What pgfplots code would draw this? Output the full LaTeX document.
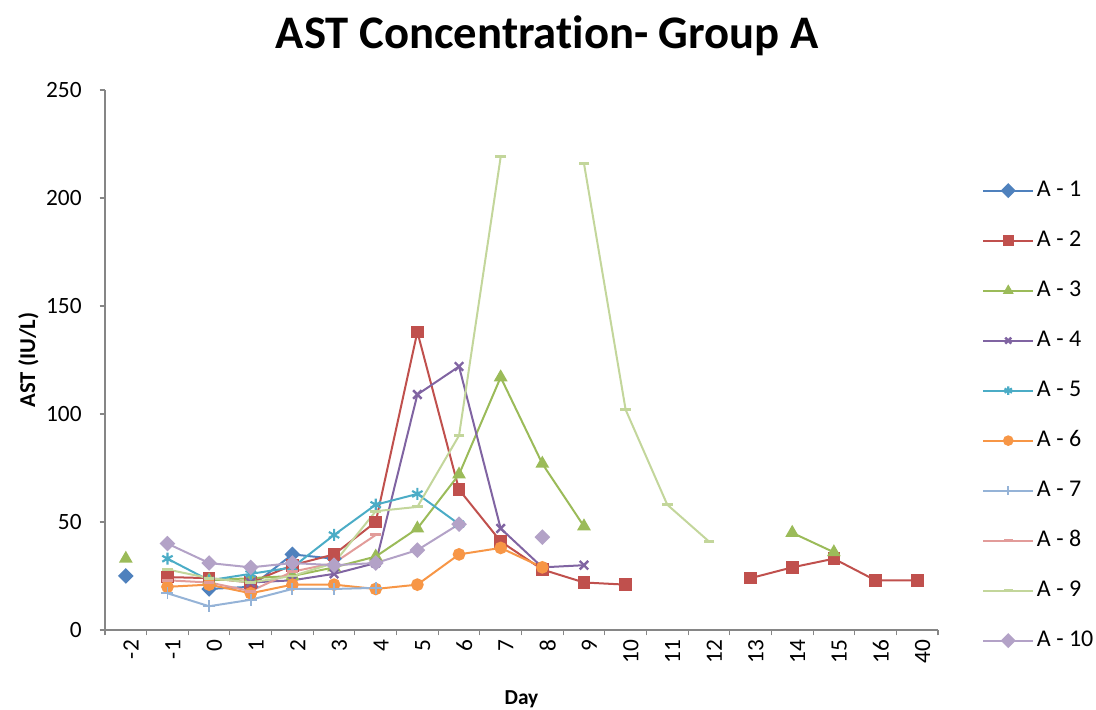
\documentclass[border=0pt]{standalone}
\usepackage{pgfplots}
\pgfplotsset{compat=1.18}
\usepackage{fontspec}
\setmainfont{Carlito}[Ligatures=NoCommon]

\definecolor{c1}{HTML}{4F81BD}
\definecolor{c2}{HTML}{C0504D}
\definecolor{c3}{HTML}{9BBB59}
\definecolor{c4}{HTML}{8064A2}
\definecolor{c5}{HTML}{4BACC6}
\definecolor{c6}{HTML}{F79646}
\definecolor{c7}{HTML}{95B3D7}
\definecolor{c8}{HTML}{E29C9A}
\definecolor{c9}{HTML}{C3D69B}
\definecolor{c10}{HTML}{B3A2C7}
\definecolor{axgray}{HTML}{868686}

\begin{document}
\begin{tikzpicture}
\begin{axis}[
  at={(0,0)}, anchor=south west,
  scale only axis,
  width=624.75pt, height=405pt,
  xmin=-0.5, xmax=19.5,
  ymin=0, ymax=250,
  ytick={0,50,...,250},
  xtick={0,...,19},
  xticklabels={-2,-1,0,1,2,3,4,5,6,7,8,9,10,11,12,13,14,15,16,40},
  minor xtick={-0.5,0.5,...,19.5},
  axis x line*=bottom, axis y line*=left,
  axis line style={-, draw=axgray, line width=0.8pt},
  tick align=outside,
  major tick length=4pt, minor tick length=4pt,
  every major x tick/.style={draw=none},
  every minor x tick/.style={draw=axgray, line width=0.8pt},
  every major y tick/.style={draw=axgray, line width=0.8pt},
  /pgf/number format/assume math mode=true,
  tick label style={font=\fontsize{17.5}{20}\selectfont},
  xticklabel style={rotate=90, anchor=east, yshift=-4pt},
  yticklabel style={xshift=-10pt},
  title={AST Concentration- Group A},
  title style={font=\fontsize{35}{40}\selectfont\bfseries, at={(axis description cs:0.531,1.085)}, anchor=center},
  xlabel={Day},
  xlabel style={font=\fontsize{16}{18}\selectfont\bfseries, at={(axis description cs:0.5,-0.129)}, anchor=center},
  ylabel={AST (IU/L)},
  ylabel style={font=\fontsize{17}{19}\selectfont\bfseries, at={(axis description cs:-0.092,0.5)}, anchor=center},
  unbounded coords=jump,
  clip=false,
  every axis plot/.append style={line width=1.5pt, mark size=4pt, mark options={solid}},
  legend image code/.code={\draw[mark repeat=2,mark phase=2,#1,mark size=3.2pt] plot coordinates {(0pt,0pt) (18.75pt,0pt) (37.5pt,0pt)};},
  legend style={at={(1.048,0.397)}, anchor=west, draw=none, fill=none,
    font=\fontsize{18}{20}\selectfont, row sep=16.5pt,
    nodes={inner sep=2pt, text height=13pt, text depth=4pt}},
  legend cell align=left,
]
% A - 1
\addplot[c1, mark=square*, mark size=3.4pt, mark options={rotate=45, fill=c1}] coordinates {
  (0,25) (1,nan) (2,19) (3,20) (4,35) (5,33)};
\addlegendentry{A - 1}
% A - 2
\addplot[c2, mark=square*, mark options={fill=c2}] coordinates {
  (1,24.5) (2,24) (3,22) (4,30) (5,35) (6,50) (7,138) (8,65) (9,41) (10,28) (11,22) (12,21)
  (13,nan) (14,nan) (15,24) (16,29) (17,33) (18,23) (19,23)};
\addlegendentry{A - 2}
% A - 3
\addplot[c3, mark=triangle*, mark size=4.5pt, mark options={fill=c3}] coordinates {
  (0,33) (1,nan) (2,23) (3,24) (4,25) (5,29) (6,34) (7,47) (8,72) (9,117) (10,77) (11,48)
  (12,nan) (13,nan) (14,nan) (15,nan) (16,45) (17,36)};
\addlegendentry{A - 3}
% A - 4
\addplot[c4, mark=x, mark size=4.5pt, mark options={line width=1.8pt}] coordinates {
  (3,22) (4,23) (5,26) (6,31) (7,109) (8,122) (9,47) (10,29) (11,30)};
\addlegendentry{A - 4}
% A - 5
\addplot[c5, mark=asterisk, mark size=4.5pt, mark options={line width=1.6pt}] coordinates {
  (1,33) (2,23) (3,26) (4,29) (5,44) (6,58) (7,63) (8,49)};
\addlegendentry{A - 5}
% A - 6
\addplot[c6, mark=*, mark options={fill=c6}] coordinates {
  (1,20) (2,21) (3,17) (4,21) (5,21) (6,19) (7,21) (8,35) (9,38) (10,29)};
\addlegendentry{A - 6}
% A - 7
\addplot[c7, mark=+, mark size=4.5pt, mark options={line width=1.4pt}] coordinates {
  (1,17) (2,11) (3,14) (4,19) (5,19) (6,19.5)};
\addlegendentry{A - 7}
% A - 8
\addplot[c8, mark=-, mark options={line width=2.2pt}] coordinates {
  (1,23) (2,22) (3,18) (4,27) (5,31) (6,44)};
\addlegendentry{A - 8}
% A - 9
\addplot[c9, mark=-, mark options={line width=2.2pt}] coordinates {
  (1,28) (2,24) (3,22) (4,25) (5,31) (6,55) (7,57) (8,90) (9,219) (10,nan)
  (11,216) (12,102) (13,58) (14,41)};
\addlegendentry{A - 9}
% A - 10
\addplot[c10, mark=square*, mark size=3.4pt, mark options={rotate=45, fill=c10}] coordinates {
  (1,40) (2,31) (3,29) (4,31) (5,30) (6,31) (7,37) (8,49) (9,nan) (10,43)};
\addlegendentry{A - 10}
\end{axis}
\pgfresetboundingbox
\path[use as bounding box] (-78.75pt,-60pt) rectangle (743.25pt,472.5pt);
\end{tikzpicture}
\end{document}
